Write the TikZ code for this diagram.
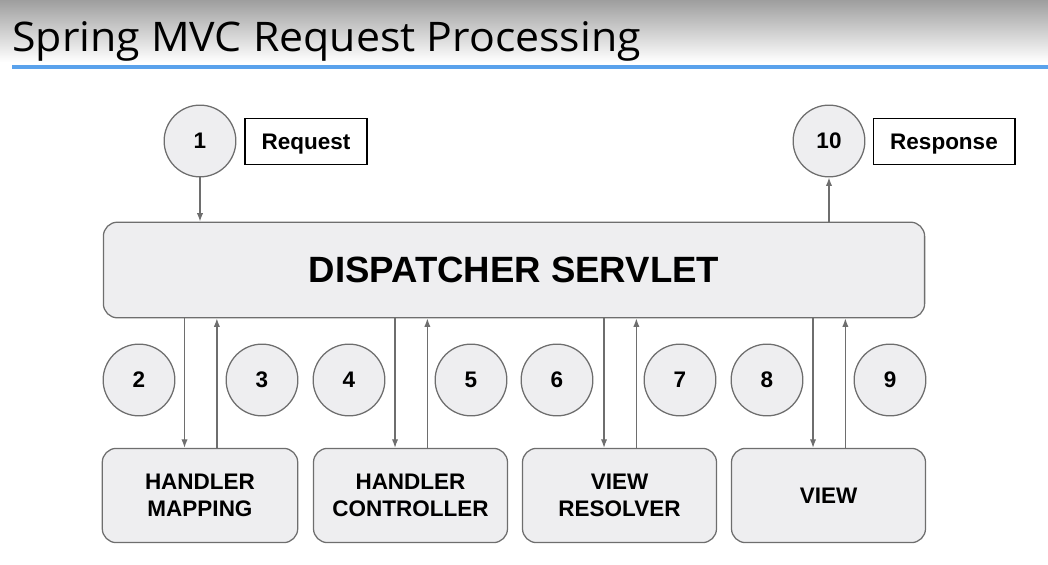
\documentclass[tikz,border=0pt]{standalone}
\usepackage{fontspec}
\setmainfont{Liberation Sans}
\newfontfamily\titlefont{Open Sans}
\usepackage{xcolor}
\definecolor{pale-grey}{HTML}{EEEEF0}
\definecolor{edge-grey}{HTML}{6E6E6E}
\definecolor{title-blue}{HTML}{5AA2EC}
\usepackage{tikz}
\usetikzlibrary{arrows.meta}
\tikzset{box/.style = {draw=edge-grey, line width=0.9pt, rounded corners=10pt, fill=pale-grey, align=center, text centered, font=\bfseries\fontsize{16}{19}\selectfont}}
\tikzset{num/.style = {draw=edge-grey, line width=0.9pt, circle, fill=pale-grey, minimum size=51pt, inner sep=0pt, font=\bfseries\fontsize{16}{19}\selectfont}}
\tikzset{tag/.style = {draw=black, line width=1.1pt, minimum height=33pt, inner sep=0pt, text depth=0pt, font=\bfseries\fontsize{16}{19}\selectfont}}
\tikzset{arr/.style = {draw=edge-grey, line width=0.9pt, -{Latex[length=6pt, width=4.5pt]}}}

\begin{document}
\begin{tikzpicture}[x=0.025cm, y=-0.025cm]
\useasboundingbox (0,0) rectangle (1048,565);

% header
\shade[top color=black!38, bottom color=white] (0,0) rectangle (1048,62);
\node[anchor=base west, inner sep=0pt, font=\titlefont\fontsize{29}{34}\selectfont] (title) at (12,52) {\scalebox{1.05}[1]{Spring MVC Request Processing}};
\draw[title-blue, line width=3.5pt] (12,67) -- (1048,67);

\node[box, minimum width=584pt, minimum height=68pt, font=\bfseries\fontsize{26}{30}\selectfont] (ds) at (514,270) {DISPATCHER SERVLET};

\node[num] (c1) at (200,141) {1};
\node[tag, minimum width=86.5pt] (req) at (306,141.5) {Request};
\node[num] (c10) at (829,141) {10};
\node[tag, minimum width=100.6pt] (resp) at (944,141.5) {Response};

\node[box, minimum width=139pt, minimum height=67pt] (hm) at (200,495.5) {HANDLER\\MAPPING};
\node[box, minimum width=138pt, minimum height=67pt] (hc) at (410.5,495.5) {HANDLER\\CONTROLLER};
\node[box, minimum width=138pt, minimum height=67pt] (vr) at (619.5,495.5) {VIEW\\RESOLVER};
\node[box, minimum width=138pt, minimum height=67pt] (vw) at (828.5,495.5) {VIEW};

\node[num] (c2) at (139,380) {2};
\node[num] (c3) at (262,380) {3};
\node[num] (c4) at (349,380) {4};
\node[num] (c5) at (471,380) {5};
\node[num] (c6) at (557,380) {6};
\node[num] (c7) at (680,380) {7};
\node[num] (c8) at (767,380) {8};
\node[num] (c9) at (890,380) {9};

\draw[arr]  (c1) -- (c1 |- ds.north);
\draw[arr]  (ds.north -| c10) -- (c10);
\foreach \b in {hm,hc,vr,vw} {
  \draw[arr]  ([xshift=-11pt]\b.north |- ds.south) -- ([xshift=-11pt]\b.north);
  \draw[arr]  ([xshift=12pt]\b.north) -- ([xshift=12pt]\b.north |- ds.south);
}

\end{tikzpicture}
\end{document}
